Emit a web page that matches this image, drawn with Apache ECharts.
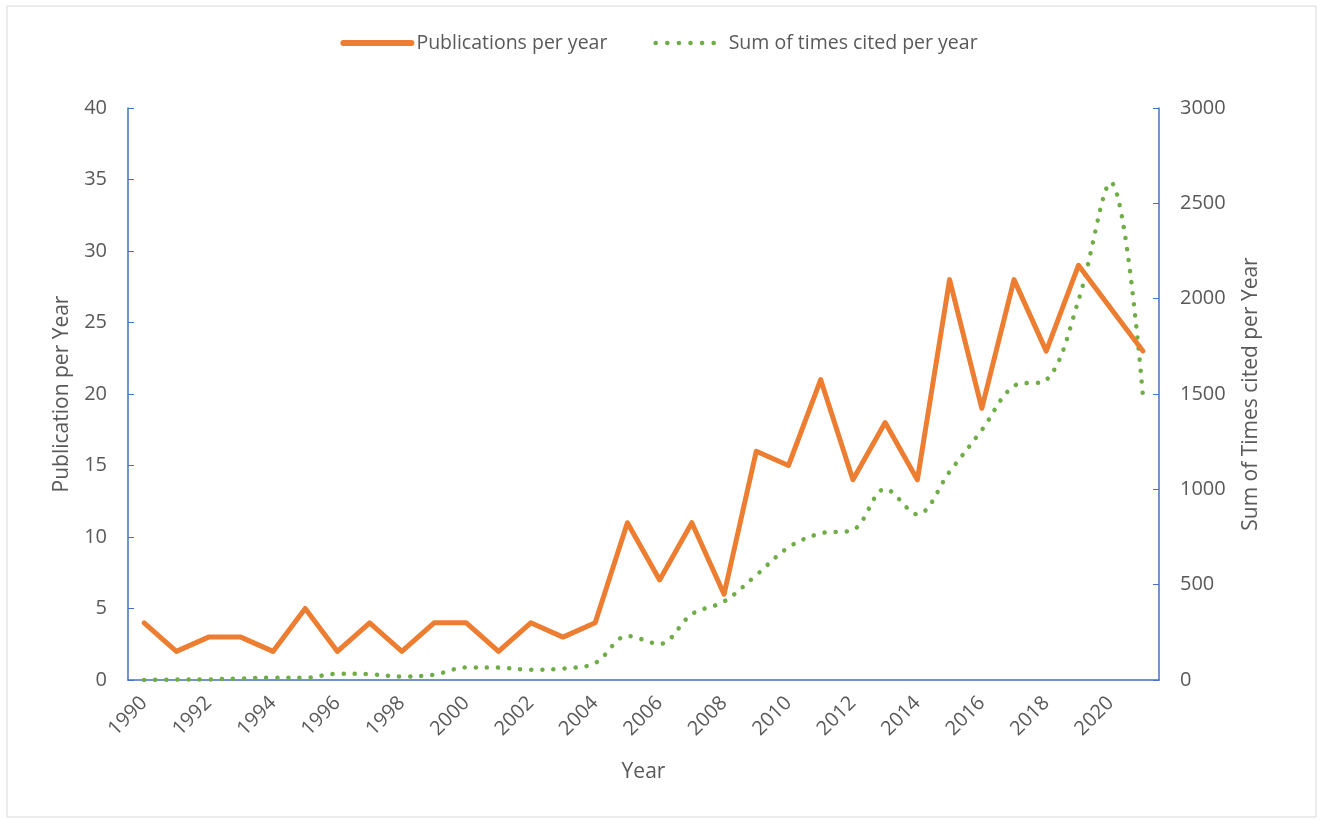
<!DOCTYPE html>
<html>
<head>
<meta charset="utf-8">
<script src="https://cdn.jsdelivr.net/npm/echarts@6/dist/echarts.min.js"></script>
<style>
  html, body { margin: 0; padding: 0; background: #fff; }
  #chart { width: 1318px; height: 819px; }
</style>
</head>
<body>
<div id="chart"></div>
<script>
var years = [];
for (var y = 1990; y <= 2021; y++) years.push(String(y));

var publications = [4, 2, 3, 3, 2, 5, 2, 4, 2, 4, 4, 2, 4, 3, 4, 11, 7, 11, 6, 16,
  15, 21, 14, 18, 14, 28, 19, 28, 23, 29, 26, 23];
var citations = [0, 2, 3, 8, 12, 12, 33, 30, 18, 28, 66, 65, 54, 60, 89, 231, 189, 345, 412, 550,
  696, 769, 787, 1002, 869, 1092, 1311, 1542, 1573, 1991, 2610, 1491];

var leftTicks = { min: 0, max: 40, interval: 5 };
var rightTicks = { min: 0, max: 3000, interval: 500 };

var textColor = '#595959';
var axisBlue = '#4472C4';
var orange = '#ED7D31';
var green = '#70AD47';
var fontFamily = '"Open Sans", sans-serif';

var chart = echarts.init(document.getElementById('chart'));

var option = {
  backgroundColor: '#fff',
  textStyle: { fontFamily: fontFamily, color: textColor },
  graphic: [{
    type: 'rect',
    shape: { x: 7, y: 6, width: 1309, height: 811 },
    style: { fill: 'none', stroke: '#d9d9d9', lineWidth: 1 },
    silent: true
  }],
  legend: {
    top: 28,
    left: 'center',
    itemGap: 46,
    itemWidth: 68,
    itemHeight: 14,
    itemStyle: { opacity: 0 },
    textStyle: { fontSize: 19.5, color: textColor, fontFamily: fontFamily },
    data: [
      { name: 'Publications per year', lineStyle: { width: 6, cap: 'round', color: orange } },
      { name: 'Sum of times cited per year', lineStyle: { width: 4.5, cap: 'round', type: [0.1, 11.5], color: green } }
    ]
  },
  grid: { left: 128, right: 159, top: 108, bottom: 139 },
  xAxis: {
    type: 'category',
    data: years,
    boundaryGap: true,
    name: 'Year',
    nameLocation: 'middle',
    nameGap: 82,
    nameTextStyle: { fontSize: 21, color: textColor },
    axisLine: { lineStyle: { color: axisBlue, width: 1.5 } },
    axisTick: { inside: true, length: 6, interval: 0, lineStyle: { color: axisBlue } },
    axisLabel: { interval: 1, rotate: 45, fontSize: 20, color: textColor, margin: 20 }
  },
  yAxis: [{
    type: 'value',
    min: leftTicks.min,
    max: leftTicks.max,
    interval: leftTicks.interval,
    name: 'Publication per Year',
    nameLocation: 'middle',
    nameGap: 55,
    nameTextStyle: { fontSize: 21, color: textColor },
    axisLine: { show: true, lineStyle: { color: axisBlue, width: 1.5 } },
    axisTick: { show: true, inside: true, length: 6, lineStyle: { color: axisBlue } },
    axisLabel: { fontSize: 20, color: textColor, margin: 21 },
    splitLine: { show: false }
  }, {
    type: 'value',
    min: rightTicks.min,
    max: rightTicks.max,
    interval: rightTicks.interval,
    name: 'Sum of Times cited per Year',
    nameLocation: 'middle',
    nameGap: 82,
    nameRotate: 90,
    nameTextStyle: { fontSize: 21, color: textColor },
    axisLine: { show: true, lineStyle: { color: axisBlue, width: 1.5 } },
    axisTick: { show: true, inside: true, length: 6, lineStyle: { color: axisBlue } },
    axisLabel: { fontSize: 20, color: textColor, margin: 21, formatter: function (v) { return String(v); } },
    splitLine: { show: false }
  }],
  series: [{
    name: 'Publications per year',
    type: 'line',
    yAxisIndex: 0,
    data: publications,
    symbol: 'none',
    color: orange,
    lineStyle: { color: orange, width: 5, join: 'round', cap: 'round' },
    z: 3
  }, {
    name: 'Sum of times cited per year',
    type: 'line',
    yAxisIndex: 1,
    data: citations,
    symbol: 'none',
    smooth: 0.35,
    color: green,
    lineStyle: { color: green, width: 4.5, type: [0.1, 11], cap: 'round' },
    z: 2
  }]
};

chart.setOption(option);
</script>
</body>
</html>
